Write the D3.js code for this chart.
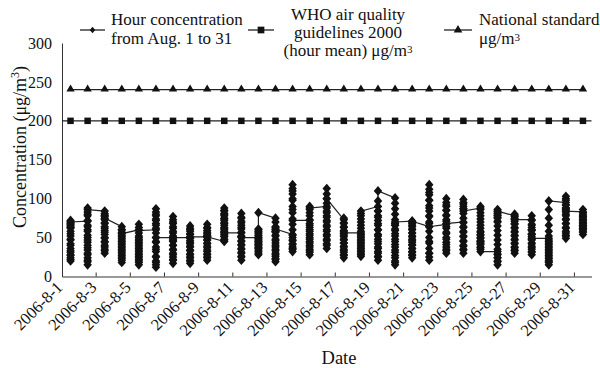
<!DOCTYPE html>
<html>
<head>
<meta charset="utf-8">
<script src="https://cdn.jsdelivr.net/npm/d3@7"></script>
<style>
  body { margin: 0; background: #fff; }
  text { font-family: "Liberation Serif", "Times New Roman", serif; fill: #111; }
</style>
</head>
<body>
<div id="canvas"></div>
<script>
// categories: one per day of August 2006
const days = ['2006-8-1','2006-8-2','2006-8-3','2006-8-4','2006-8-5','2006-8-6','2006-8-7','2006-8-8',
  '2006-8-9','2006-8-10','2006-8-11','2006-8-12','2006-8-13','2006-8-14','2006-8-15','2006-8-16',
  '2006-8-17','2006-8-18','2006-8-19','2006-8-20','2006-8-21','2006-8-22','2006-8-23','2006-8-24',
  '2006-8-25','2006-8-26','2006-8-27','2006-8-28','2006-8-29','2006-8-30','2006-8-31'];

// hourly concentrations (24 per day)
const hourly = [
  [70,62,55,48,40,33,28,24,20,22,27,31,36,42,47,52,58,63,67,72,68,64,66,70],
  [71,64,58,50,44,37,30,24,19,15,21,28,34,40,47,53,60,66,72,78,83,88,80,86],
  [84,79,74,68,62,57,50,45,40,35,30,33,38,44,49,54,59,64,69,73,78,81,77,75],
  [64,60,56,51,47,43,39,35,31,27,23,18,21,25,29,33,37,41,45,49,53,57,60,55],
  [60,56,52,48,44,40,36,32,28,24,20,15,18,22,26,30,34,38,42,46,50,63,67,59],
  [60,66,72,78,83,87,80,74,68,62,56,50,44,38,32,26,20,15,12,18,25,35,45,50],
  [50,56,62,68,73,77,70,64,58,52,46,40,35,30,25,21,17,22,28,34,40,45,48,50],
  [50,54,58,62,65,60,55,49,44,39,34,29,25,21,17,20,24,28,33,38,42,46,49,51],
  [51,55,59,63,67,62,57,52,47,42,37,32,28,24,21,25,29,34,39,43,47,50,53,51],
  [45,48,51,54,57,60,63,66,69,72,75,78,81,84,88,85,80,74,68,62,58,52,47,56],
  [56,61,66,71,76,81,75,69,63,57,51,45,40,35,30,25,21,26,31,36,41,46,52,50],
  [50,46,42,38,34,30,28,32,36,40,44,48,52,55,58,61,57,53,49,45,41,37,60,82],
  [75,70,64,58,52,46,40,35,30,26,22,19,23,28,33,38,43,48,53,57,60,63,58,61],
  [54,50,46,42,38,35,32,36,41,47,53,60,67,74,82,90,98,106,113,118,110,100,86,72],
  [72,66,60,55,50,45,40,35,31,28,33,38,43,48,53,58,63,68,73,78,82,86,90,88],
  [90,84,78,72,66,60,54,48,42,36,40,46,52,58,64,70,76,82,88,94,100,106,113,100],
  [73,68,63,58,53,48,43,38,33,28,24,27,31,35,39,43,47,51,55,59,64,69,75,56],
  [56,52,48,44,40,36,32,28,26,30,34,38,42,46,50,54,58,62,66,70,74,78,81,84],
  [90,84,78,72,66,60,54,48,42,36,30,25,21,26,32,38,45,52,60,68,76,84,97,110],
  [101,94,87,80,73,66,59,52,45,38,31,24,18,15,20,27,34,41,48,55,61,66,68,70],
  [71,66,61,56,51,46,41,36,31,27,24,28,32,36,40,44,48,52,56,60,64,68,70,71],
  [64,70,77,84,91,98,105,112,118,108,98,88,78,68,58,50,43,36,30,25,21,30,45,64],
  [67,73,79,85,90,95,100,92,85,78,71,64,57,50,44,38,33,30,35,41,48,55,62,68],
  [70,64,58,52,46,40,35,30,34,39,45,51,57,63,69,75,81,87,93,99,95,90,87,84],
  [88,90,86,82,78,74,70,66,62,58,54,50,46,42,38,35,37,41,45,49,53,57,44,32],
  [32,28,24,20,15,19,24,29,35,41,47,53,59,65,71,76,81,86,83,79,75,70,78,84],
  [78,80,74,68,62,57,52,47,42,37,33,30,34,38,43,48,53,58,63,67,71,75,77,73],
  [73,78,72,66,60,54,48,42,37,32,28,31,35,39,43,47,51,55,59,63,67,60,54,49],
  [49,45,41,37,33,29,25,21,18,15,19,23,27,31,35,39,43,47,52,58,66,75,86,97],
  [95,100,103,98,92,86,80,74,68,62,56,52,49,53,58,63,68,73,78,83,88,92,88,84],
  [83,86,82,78,74,70,66,62,58,54,57,61,65,69,73,77,80,76,72,68,64,60,62,66]
];

const whoGuideline = 200;      // WHO 2000, hour mean
const nationalStandard = 240;  // national standard
const yTicks = [0, 50, 100, 150, 200, 250, 300];

const width = 600, height = 368;
const svg = d3.select('#canvas').append('svg')
  .attr('width', width)
  .attr('height', height);

const x = d3.scaleBand().domain(days).range([62, 591.5]).padding(0);
const y = d3.scaleLinear().domain([0, 300]).range([276.5, 43]);
const cx = d => x(d) + x.bandwidth() / 2;

// custom markers
const diamond = {
  draw(ctx, size) {
    const w = Math.sqrt(size) / 2, h = w * 1.15;
    ctx.moveTo(0, -h); ctx.lineTo(w, 0); ctx.lineTo(0, h); ctx.lineTo(-w, 0); ctx.closePath();
  }
};

// axes
svg.append('g')
  .attr('transform', 'translate(62,0)')
  .call(d3.axisLeft(y).tickValues(yTicks).tickSize(0).tickPadding(10))
  .call(g => g.select('.domain').attr('stroke', '#333'))
  .call(g => g.selectAll('text').attr('font-size', 16).attr('font-family', null));

svg.append('g')
  .attr('transform', 'translate(0,276.5)')
  .call(d3.axisBottom(x).tickValues([]).tickSizeOuter(0))
  .call(g => g.select('.domain').attr('stroke', '#333'));

// tick marks between every second day (pointing up)
svg.append('g').selectAll('line')
  .data(days.filter((d, i) => i > 0 && i % 2 === 0))
  .enter().append('line')
  .attr('x1', d => x(d)).attr('x2', d => x(d))
  .attr('y1', y(0)).attr('y2', y(0) - 4)
  .attr('stroke', '#333');

// date labels on odd days
svg.append('g').selectAll('text')
  .data(days.filter((d, i) => i % 2 === 0))
  .enter().append('text')
  .attr('text-anchor', 'end')
  .attr('font-size', 16.5)
  .attr('transform', d => `translate(${cx(d) - 7},${y(0) + 12}) rotate(-45)`)
  .text(d => d);

// axis titles
svg.append('text')
  .attr('x', 339).attr('y', 364)
  .attr('text-anchor', 'middle')
  .attr('font-size', 18.5)
  .text('Date');

const yt = svg.append('text')
  .attr('transform', 'translate(26,147) rotate(-90)')
  .attr('text-anchor', 'middle')
  .attr('font-size', 18);
yt.append('tspan').text('Concentration (μg/m');
yt.append('tspan').attr('font-size', 12).attr('dy', -7).text('3');
yt.append('tspan').attr('dy', 7).text(')');

// WHO guideline line (full width) with squares
svg.append('line')
  .attr('x1', 62).attr('x2', 591.5)
  .attr('y1', y(whoGuideline)).attr('y2', y(whoGuideline))
  .attr('stroke', '#222').attr('stroke-width', 1.3);
svg.append('g').selectAll('path')
  .data(days)
  .enter().append('path')
  .attr('transform', d => `translate(${cx(d)},${y(whoGuideline)})`)
  .attr('d', d3.symbol().type(d3.symbolSquare).size(42))
  .attr('fill', '#111');

// national standard line with triangles
svg.append('line')
  .attr('x1', cx(days[0])).attr('x2', cx(days[days.length - 1]))
  .attr('y1', y(nationalStandard)).attr('y2', y(nationalStandard))
  .attr('stroke', '#222').attr('stroke-width', 1.3);
svg.append('g').selectAll('path')
  .data(days)
  .enter().append('path')
  .attr('transform', d => `translate(${cx(d)},${y(nationalStandard) - 0.5})`)
  .attr('d', d3.symbol().type(d3.symbolTriangle).size(30))
  .attr('fill', '#111');

// hourly series: every hour of a day sits on the day's position
const points = [];
hourly.forEach((vals, i) => vals.forEach(v => points.push({ day: days[i], v: v })));

svg.append('path')
  .datum(points)
  .attr('fill', 'none')
  .attr('stroke', '#222')
  .attr('stroke-width', 1.2)
  .attr('d', d3.line().x(p => cx(p.day)).y(p => y(p.v)));

svg.append('g').selectAll('path')
  .data(points)
  .enter().append('path')
  .attr('transform', p => `translate(${cx(p.day)},${y(p.v)})`)
  .attr('d', d3.symbol().type(diamond).size(72))
  .attr('fill', '#111');

// legend
const legend = svg.append('g').attr('font-size', 17);
function legendKey(x1, x2, yy, type, size) {
  legend.append('line').attr('x1', x1).attr('x2', x2).attr('y1', yy).attr('y2', yy)
    .attr('stroke', '#222').attr('stroke-width', 1.3);
  legend.append('path')
    .attr('transform', `translate(${(x1 + x2) / 2},${yy})`)
    .attr('d', d3.symbol().type(type).size(size))
    .attr('fill', '#111');
}
legendKey(80, 105, 30, diamond, 30);
legendKey(248, 274, 30, d3.symbolSquare, 45);
legendKey(444, 472, 30, d3.symbolTriangle, 32);

legend.append('text').attr('x', 111).attr('y', 25).text('Hour concentration');
legend.append('text').attr('x', 111).attr('y', 44).text('from Aug. 1 to 31');

legend.append('text').attr('x', 348).attr('y', 20).attr('text-anchor', 'middle').text('WHO air quality');
legend.append('text').attr('x', 348).attr('y', 38).attr('text-anchor', 'middle').text('guidelines 2000');
const who3 = legend.append('text').attr('x', 348).attr('y', 56).attr('text-anchor', 'middle');
who3.append('tspan').text('(hour mean) μg/m');
who3.append('tspan').attr('font-size', 11).attr('dy', -3).text('3');

legend.append('text').attr('x', 479).attr('y', 25).text('National standard');
const nat2 = legend.append('text').attr('x', 479).attr('y', 44);
nat2.append('tspan').text('μg/m');
nat2.append('tspan').attr('font-size', 11).attr('dy', -3).text('3');
</script>
</body>
</html>
